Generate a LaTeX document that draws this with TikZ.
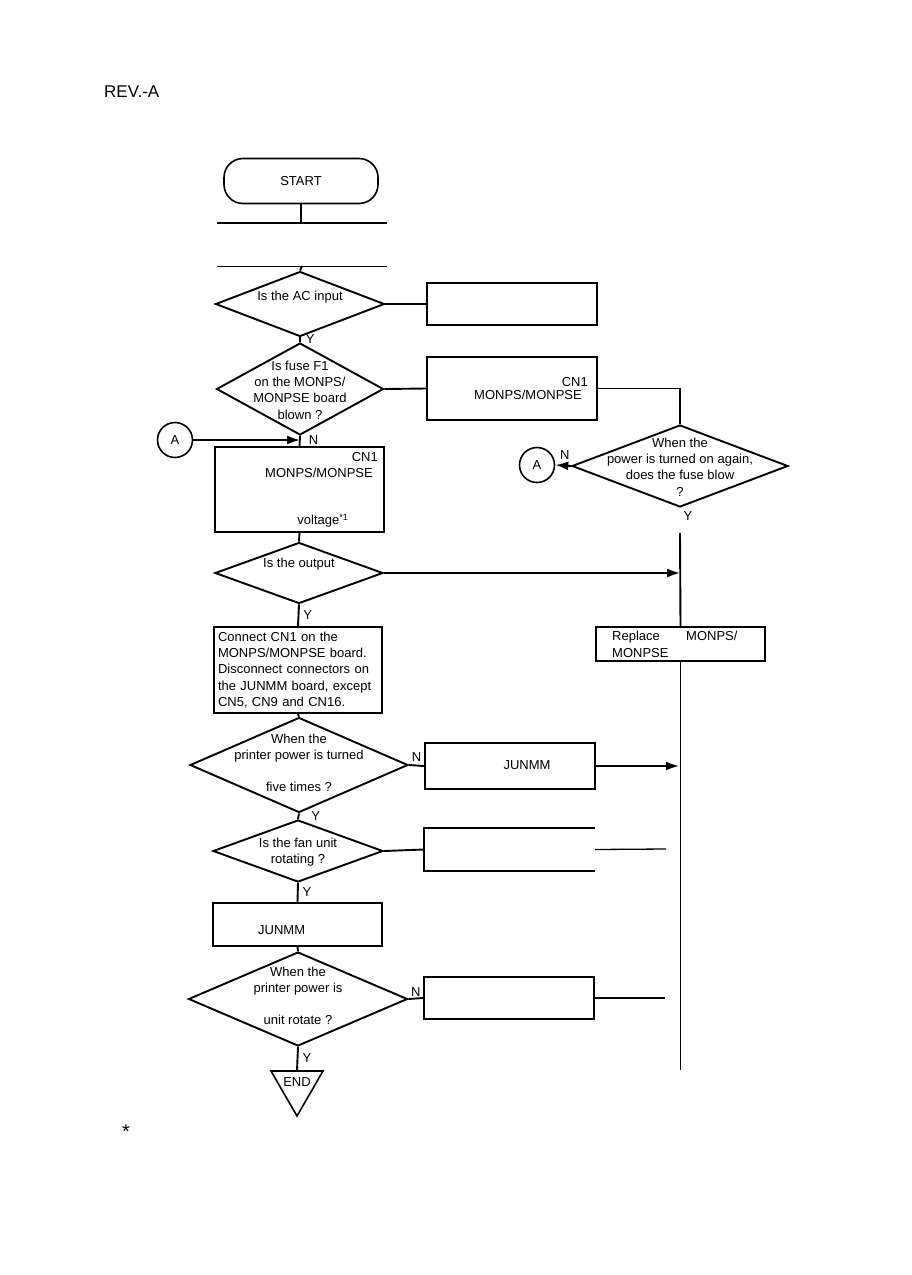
\documentclass[tikz,border=0pt]{standalone}
\usepackage{fontspec}
\setmainfont{Liberation Sans}
\usepackage{tikz}
\usetikzlibrary{shapes.geometric, arrows.meta, positioning}
\newcommand{\chartfont}{\fontsize{13}{16.3}\selectfont}
\tikzstyle{decision} = [diamond, draw=black, line width=1.9pt, inner sep=0pt]
\tikzstyle{dtext} = [align=center, font=\chartfont, inner sep=0pt]
\tikzstyle{process} = [rectangle, draw=black, line width=1.9pt, inner sep=0pt]
\tikzstyle{bare} = [rectangle, inner sep=0pt]
\tikzstyle{terminal} = [rectangle, rounded corners=19pt, draw=black, line width=1.6pt, inner sep=0pt]
\tikzstyle{connector} = [circle, draw=black, line width=1.6pt, minimum size=35pt, inner sep=0pt, font=\chartfont]
\tikzstyle{txt} = [font=\chartfont, inner sep=0pt]
\tikzstyle{link} = [line width=1.9pt]
\tikzstyle{arrow} = [line width=1.9pt, -{Latex[length=13pt,width=9pt]}]

\begin{document}
\begin{tikzpicture}[x=1pt, y=-1pt]
\useasboundingbox (0,0) rectangle (911,1275);

\node[anchor=west, font=\fontsize{17}{20}\selectfont, inner sep=0pt] (rev) at (104,92) {REV.-A};

% main column
\node[terminal, minimum width=154pt, minimum height=45pt, font=\chartfont] (start) at (301,181) {START};
\node[bare, minimum width=170pt, minimum height=43pt] (blank1) at (302,244.5) {};
\draw[line width=2.5pt] (blank1.north west) -- (blank1.north east);
\draw[line width=1.4pt] (blank1.south west) -- (blank1.south east);

\node[decision, minimum width=169pt, minimum height=65pt,
  label={[dtext, yshift=7pt]center:Is the AC input}] (acin) at (300,304) {};
\node[decision, minimum width=167pt, minimum height=92pt,
  label={[dtext, yshift=-1pt]center:Is fuse F1\\on the MONPS/\\MONPSE board\\blown ?}] (fuse) at (300,389) {};

\node[process, minimum width=169pt, minimum height=85pt] (outchk) at (299.5,489.5) {};
\node[txt, anchor=east] (outchka) at (378,457) {CN1};
\node[txt] (outchkb) at (319,473) {MONPS/MONPSE};
\node[txt] (outchkc) at (323,521) {voltage\textsuperscript{*1}};

\node[decision, minimum width=168pt, minimum height=61pt,
  label={[dtext, yshift=9pt]center:Is the output}] (output) at (299,573) {};

\node[process, minimum width=168pt, minimum height=86pt, text width=160pt,
  align=left, font=\chartfont] (connect) at (298,670)
  {Connect CN1 on the\\MONPS/MONPSE board.\\Disconnect connectors on\\the JUNMM board, except\\CN5, CN9 and CN16.};

\node[decision, minimum width=218pt, minimum height=95pt,
  label={[dtext, yshift=2pt]center:When the\\printer power is turned\\[16pt]five times ?}] (turned) at (299,765) {};
\node[decision, minimum width=170pt, minimum height=62pt,
  label={[dtext, yshift=-1pt]center:Is the fan unit\\rotating ?}] (fan) at (298,851) {};

\node[process, minimum width=169pt, minimum height=43pt] (junrep) at (297.5,924.5) {};
\node[txt, anchor=west] (junrepa) at (258,930) {JUNMM};

\node[decision, minimum width=219pt, minimum height=94pt,
  label={[dtext, yshift=3pt]center:When the\\printer power is\\[16pt]unit rotate ?}] (rotate) at (298,999) {};

% end mark
\node[txt] (endnode) at (297,1082) {END};
\coordinate (endtop) at (297,1071);
\draw[line width=1.6pt] (271,1071) -- (323,1071) -- (297,1116) -- cycle;

\node[font=\fontsize{20}{20}\selectfont, inner sep=0pt] (note) at (126,1132) {*};

% right column
\node[process, minimum width=170pt, minimum height=42pt] (acfix) at (512,304) {};
\node[process, minimum width=170pt, minimum height=63pt] (fusefix) at (512,388.5) {};
\node[txt, anchor=east] (fusefixa) at (588,382) {CN1};
\node[txt, anchor=east] (fusefixb) at (582,395) {MONPS/MONPSE};

\node[decision, minimum width=216pt, minimum height=82pt,
  label={[dtext, yshift=-1pt]center:When the\\power is turned on again,\\does the fuse blow\\?}] (again) at (680,466) {};

\node[connector] (conA) at (175,440) {A};
\node[connector] (conB) at (537,465) {A};

\node[process, minimum width=169pt, minimum height=34pt] (replace) at (680.5,644) {};
\node[txt, anchor=west] (replacea) at (612,637) {Replace};
\node[txt, anchor=west] (replaceb) at (686,636) {MONPS/};
\node[txt, anchor=west] (replacec) at (612,653) {MONPSE};

\node[process, minimum width=170pt, minimum height=46pt] (junchk) at (510,766) {};
\node[txt] (junchka) at (527,765) {JUNMM};
\node[bare, minimum width=171pt, minimum height=43pt] (fanfix) at (509.5,849.5) {};
\draw[link] (fanfix.north east) -- (fanfix.north west) -- (fanfix.south west) -- (fanfix.south east);
\node[process, minimum width=170pt, minimum height=42pt] (rotfix) at (509,998) {};

\coordinate (vtop) at (680,533);
\coordinate (vend) at (679,1070);
\coordinate (fanend) at (666,849);
\coordinate (rotend) at (665,998);

% connectors
\draw[link] (start.south) -- (start.south |- blank1.north);
\draw[link] (blank1.south) -- (acin.north);
\draw[link] (acin.east) -- (acfix.west);
\draw[link] (acin.south) -- (fuse.north) node[txt, pos=0.4, right=5pt] {Y};
\draw[link] (fuse.east) -- (fusefix.west);
\draw[line width=1.3pt] (fusefix.east) -| (again.north);
\draw[arrow] (again.west) -- (conB.east) node[txt, pos=0.4, above=5pt] {N};
\draw[link] (fuse.south) -- (outchk.north);
\draw[arrow] (conA.east) -- (conA.east -| fuse.south) node[txt, right=8pt] {N};
\node[txt] (againy) at (688,516) {Y};
\draw[link] (vtop) -- (replace.north);
\draw[link] (outchk.south) -- (output.north);
\draw[arrow] (output.east) -- (output.east -| vtop);
\draw[link] (output.south) -- (connect.north) node[txt, midway, right=4pt] {Y};
\draw[link] (connect.south) -- (turned.north);
\draw[link] (turned.east) -- (junchk.west) node[txt, midway, above=3pt] {N};
\draw[link] (replace.south) -- (replace.south |- vend);
\draw[arrow] (junchk.east) -- (junchk.east -| vend);
\draw[link] (turned.south) -- (fan.north) node[txt, midway, right=12pt] {Y};
\draw[link] (fan.east) -- (fanfix.west);
\draw[line width=1.3pt] (fanfix.east) -- (fanend);
\draw[link] (fan.south) -- (junrep.north) node[txt, midway, right=4pt] {Y};
\draw[link] (junrep.south) -- (rotate.north);
\draw[link] (rotate.east) -- (rotfix.west) node[txt, midway, above=1pt] {N};
\draw[link] (rotfix.east) -- (rotend);
\draw[link] (rotate.south) -- (endtop) node[txt, pos=0.45, right=4pt] {Y};
\end{tikzpicture}
\end{document}
